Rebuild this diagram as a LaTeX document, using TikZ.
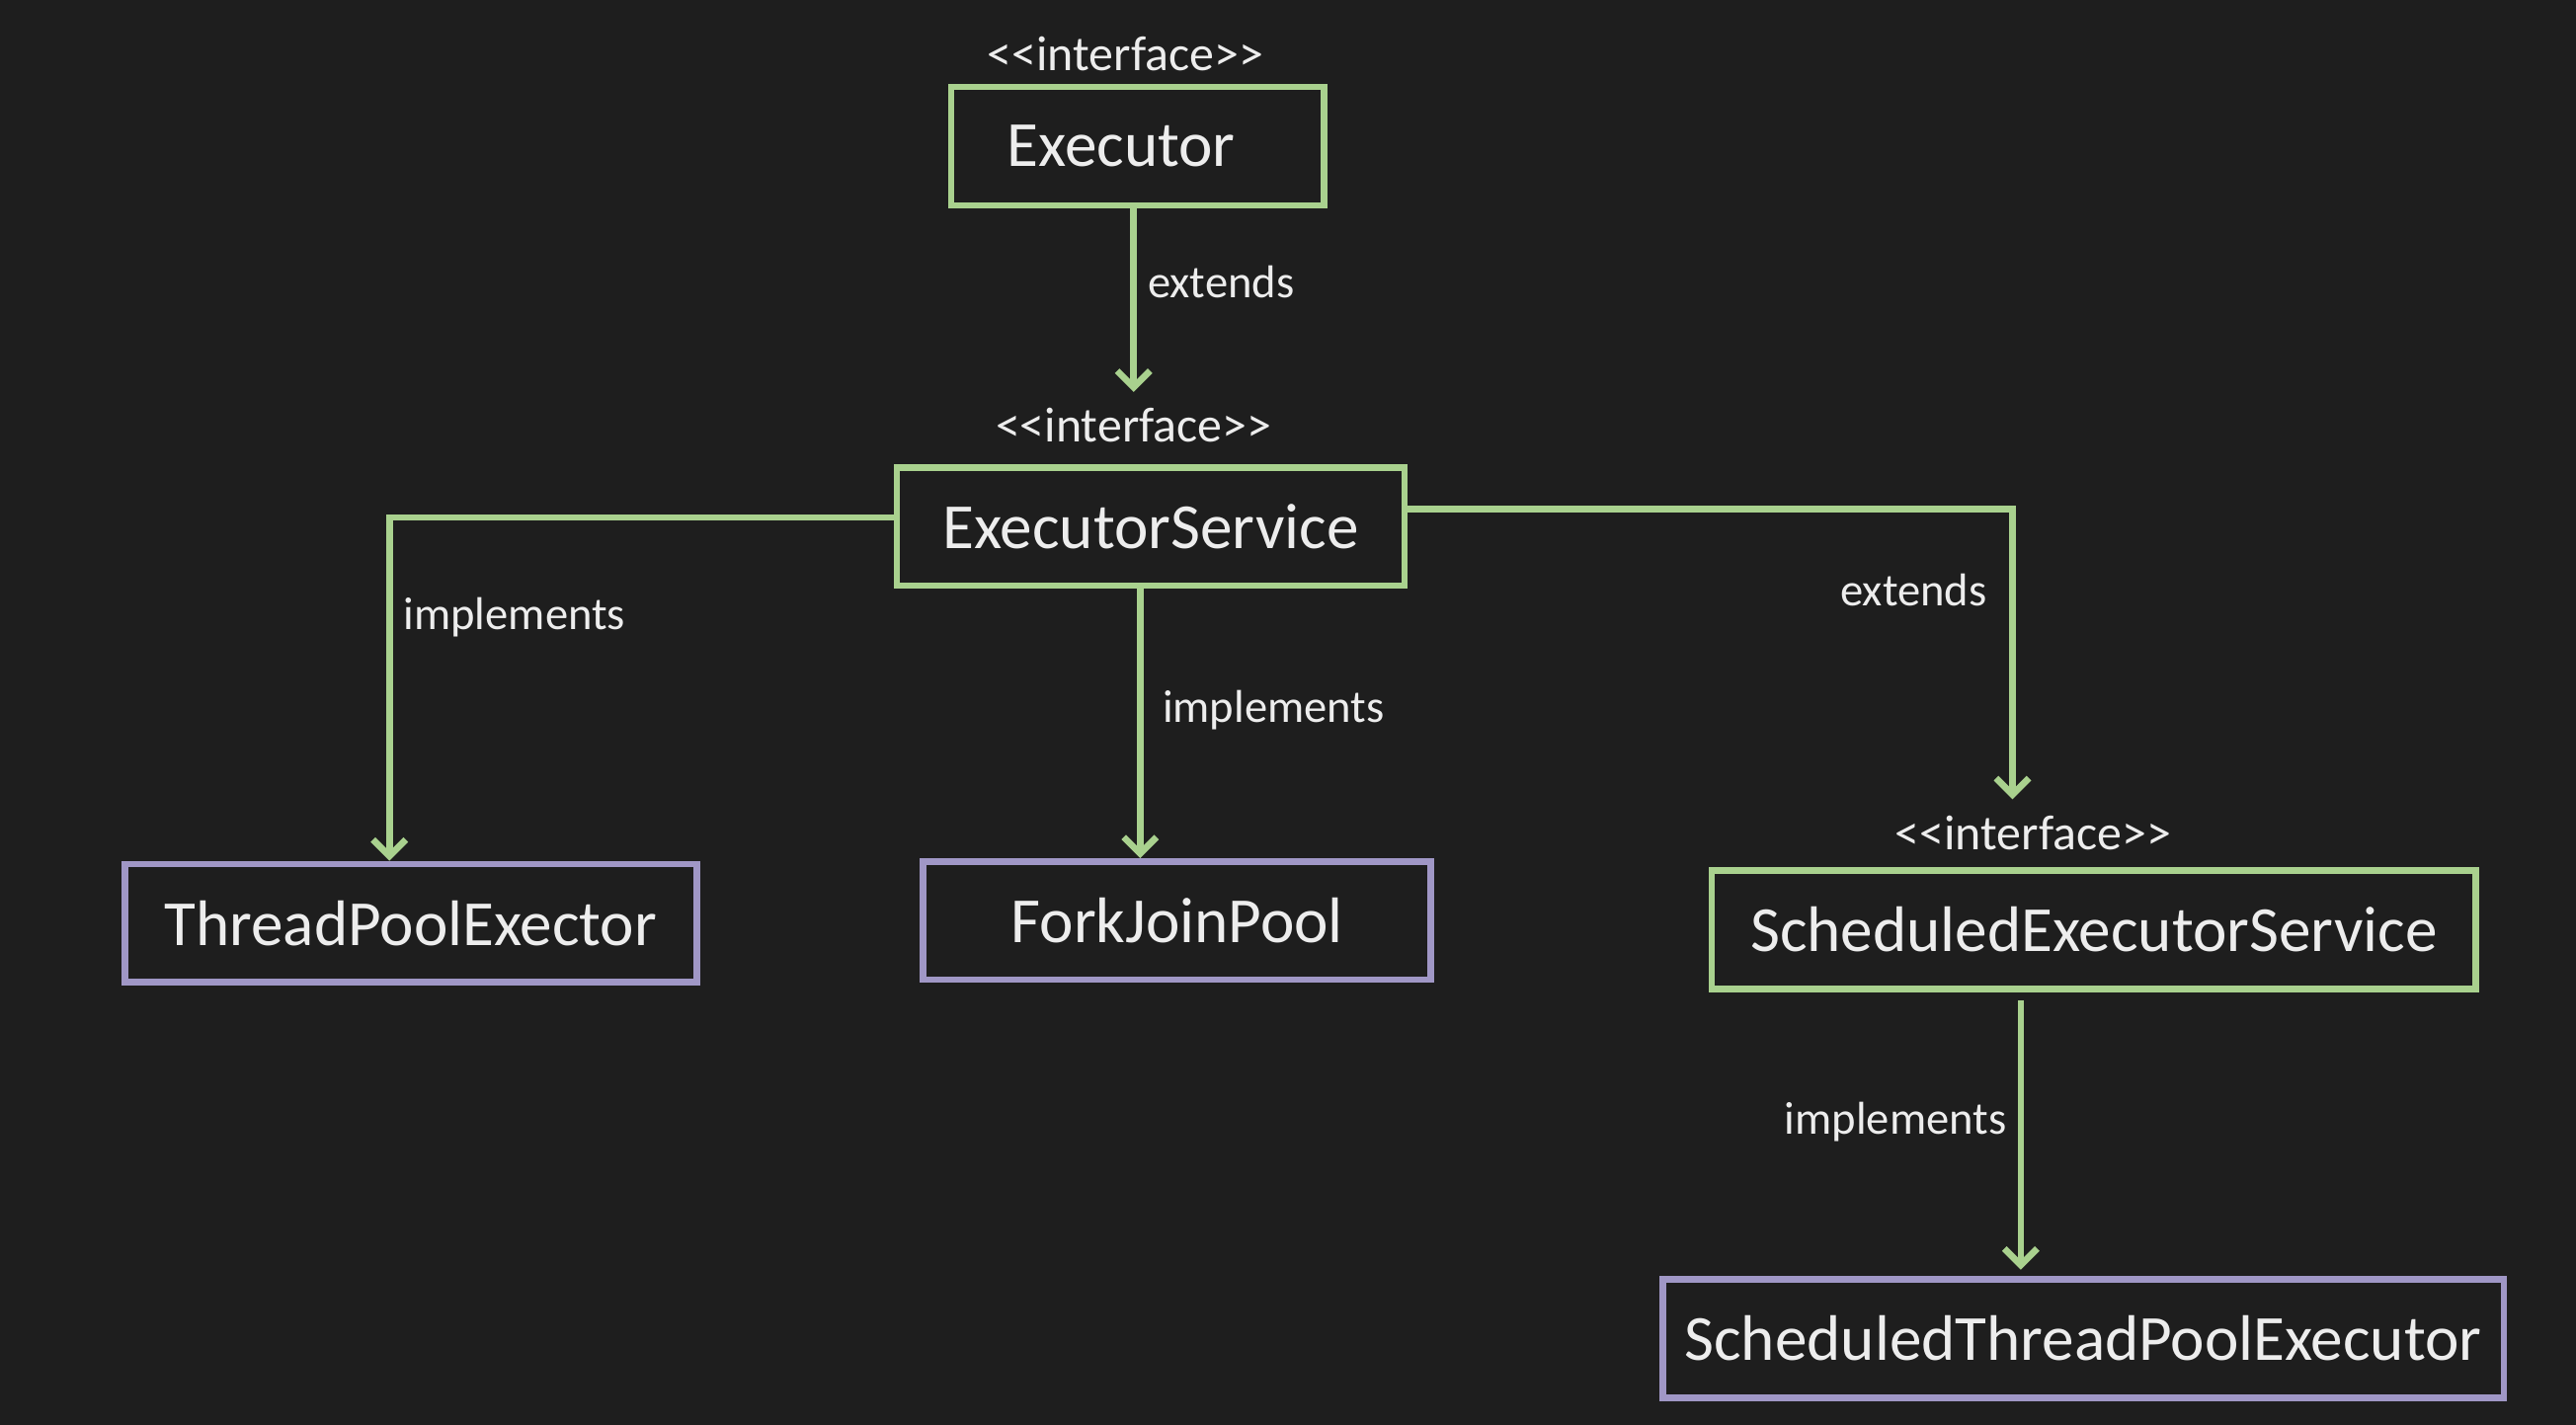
\documentclass[tikz,border=0pt]{standalone}
\usepackage{fontspec}
\setmainfont{Carlito}[Ligatures=TeXOff]
\usepackage{xcolor}
\usepackage{tikz}
\usetikzlibrary{arrows.meta}
\definecolor{bg}{HTML}{1E1E1E}
\definecolor{ifgreen}{HTML}{A9D18E}
\definecolor{clpurple}{HTML}{A097C6}
\definecolor{txt}{HTML}{EDEDED}
\tikzstyle{iface} = [rectangle, minimum height=36pt, text centered, draw=ifgreen, line width=2pt, text=txt, font=\fontsize{19.6}{22}\selectfont]
\tikzstyle{impl} = [iface, draw=clpurple]
\tikzstyle{stereo} = [minimum height=20pt, inner sep=0pt, text=txt, font=\fontsize{15}{17}\selectfont]
\tikzstyle{lbl} = [text=txt, font=\fontsize{14}{16}\selectfont]
\tikzstyle{arrow} = [draw=ifgreen, line width=2pt, ->, >={Straight Barb[length=5pt,width=10pt]}]

\begin{document}
\begin{tikzpicture}[x=0.5pt, y=-0.5pt, node distance=120pt]
   \useasboundingbox (0,0) rectangle (1568,867);
   \fill[bg] (-10,-10) rectangle (1578,877);
   \node (e) [iface, minimum width=113.5pt] at (692.5,89) {Executor\kern10pt};
   \node (es) [iface, below of=e, xshift=4pt, yshift=4.25pt, minimum width=154.5pt] {ExecutorService};
   \node (tp) [impl, below of=es, xshift=-225.25pt, yshift=-0.75pt, minimum width=174pt] {ThreadPoolExector};
   \node (fj) [impl, below of=es, xshift=8pt, minimum width=154.5pt] {ForkJoinPool};
   \node (ses) [iface, below of=es, xshift=287pt, yshift=-2.75pt, minimum width=232.5pt] {ScheduledExecutorService};
   \node (stp) [impl, below of=ses, xshift=-3.25pt, yshift=-4.5pt, minimum width=256pt] {ScheduledThreadPoolExecutor};
   \node (el) [stereo] at (685,33) {<<interface>>};
   \node (esl) [stereo] at (690,259) {<<interface>>};
   \node (sesl) [stereo] at (1237.5,507) {<<interface>>};
   \draw [arrow] (esl.north |- e.south) -- node[lbl, anchor=west, pos=0.4] {extends} (esl.north);
   \draw [arrow] ([yshift=2.75pt]es.west) -| node[lbl, anchor=west, pos=0.646] {implements} ([xshift=-6.5pt]tp.north);
   \draw [arrow] ([xshift=-3.25pt]es.south) -- node[lbl, anchor=west, pos=0.45, xshift=2.5pt] {implements} ([xshift=-3.25pt]es.south |- fj.north);
   \draw [arrow] ([yshift=5.25pt]es.east) -| node[lbl, anchor=east, pos=0.64, xshift=-3.5pt] {extends} ([xshift=-6.25pt]sesl.north);
   \draw [arrow, shorten >=2pt] ([xshift=-22.25pt, yshift=-2.5pt]ses.south) -- node[lbl, anchor=east, pos=0.44] {implements} ([xshift=-22.25pt]ses.south |- stp.north);
\end{tikzpicture}
\end{document}
